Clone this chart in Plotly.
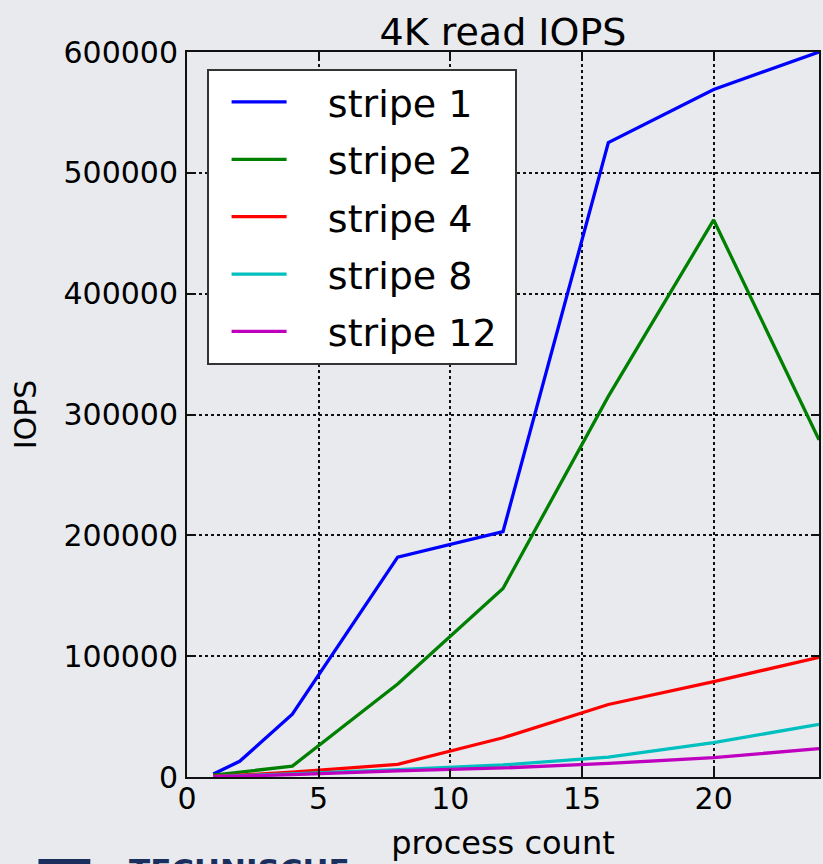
import plotly.graph_objects as go

process_count = [1, 2, 4, 8, 12, 16, 20, 24]
stripe_1 = [2500, 13000, 52000, 182000, 203000, 525000, 569000, 600000]
stripe_2 = [1500, 4000, 9000, 77000, 156000, 315000, 461000, 279000]
stripe_4 = [700, 1500, 4000, 10500, 32500, 60000, 79000, 99000]
stripe_8 = [300, 900, 2500, 6000, 10000, 16500, 28500, 43500]
stripe_12 = [200, 700, 2000, 5000, 7500, 11200, 16000, 23500]

series_names = ["stripe 1", "stripe 2", "stripe 4", "stripe 8", "stripe 12"]
series_values = [stripe_1, stripe_2, stripe_4, stripe_8, stripe_12]
series_colors = ["#0000ff", "#008000", "#ff0000", "#00bfbf", "#bf00bf"]

x_ticks = [0, 5, 10, 15, 20]
y_ticks = [0, 100000, 200000, 300000, 400000, 500000, 600000]

FONT = "DejaVu Sans"
BG = "#e8eaee"
NB = "\u00a0"

fig = go.Figure()
for i, (name, vals, col) in enumerate(zip(series_names, series_values, series_colors)):
    fig.add_trace(go.Scatter(
        x=process_count, y=vals, name=NB * 3 + name + NB, mode="lines",
        line=dict(color=col, width=3.3), legendgroup=f"g{i}",
    ))

axis_common = dict(
    showline=True, linecolor="#111111", linewidth=2, mirror="ticks",
    ticks="inside", ticklen=8, tickwidth=1.5, tickcolor="#111111",
    showgrid=True, gridcolor="#111111", gridwidth=1.5, griddash="dot",
    zeroline=False, tickfont=dict(family=FONT, size=30, color="#000000"),
)

fig.update_layout(
    width=823, height=864,
    margin=dict(l=187, r=2, t=52, b=87),
    paper_bgcolor=BG, plot_bgcolor=BG,
    font=dict(family=FONT, color="#000000"),
    title=dict(text="4K read IOPS", x=0.5, xref="paper", y=1, yref="paper",
               xanchor="center", yanchor="bottom", pad=dict(b=7),
               font=dict(family=FONT, size=38, color="#000000")),
    xaxis=dict(range=[0, 24], tickvals=x_ticks, ticklabelstandoff=-6,
               title=dict(text="process count", font=dict(family=FONT, size=32), standoff=17),
               **axis_common),
    yaxis=dict(range=[0, 600000], tickvals=y_ticks, tickformat="d", ticklabelstandoff=1,
               title=dict(text="IOPS", font=dict(family=FONT, size=30), standoff=18),
               **axis_common),
    showlegend=True,
    legend=dict(x=0.031, y=0.977, xanchor="left", yanchor="top",
                bgcolor="#ffffff", bordercolor="#333333", borderwidth=2,
                font=dict(family=FONT, size=38, color="#000000"),
                itemwidth=55, indentation=18, tracegroupgap=5, traceorder="grouped"),
)

fig.add_annotation(text="<b>TECHNISCHE</b>", xref="paper", yref="paper",
                   x=-0.095, y=-0.1, xanchor="left", yanchor="top",
                   showarrow=False, font=dict(family=FONT, size=31, color="#1b2f5e"))
fig.add_shape(type="rect", xref="paper", yref="paper",
              x0=-0.235, x1=-0.153, y0=-0.14, y1=-0.113,
              fillcolor="#1b2f5e", line=dict(width=0))

fig.write_html("out.html")
